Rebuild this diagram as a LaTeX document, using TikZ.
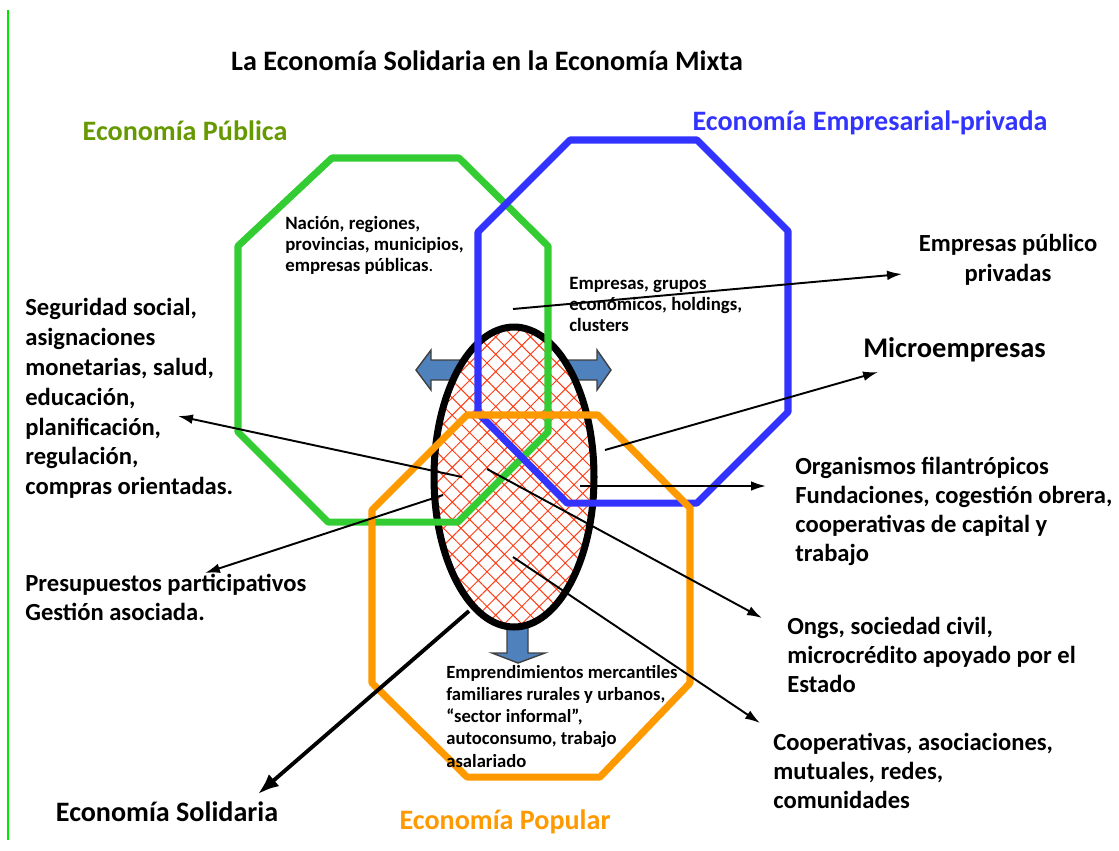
\documentclass[tikz,border=0pt]{standalone}
\usepackage{fontspec}
\setmainfont{Carlito}
\usepackage{tikz}
\usetikzlibrary{arrows.meta, patterns.meta}

\definecolor{verdepub}{RGB}{51,204,51}
\definecolor{verdetit}{RGB}{102,153,0}
\definecolor{azulemp}{RGB}{51,51,255}
\definecolor{naranjapop}{RGB}{255,153,0}
\definecolor{rojotrama}{RGB}{255,60,20}
\definecolor{azulflecha}{RGB}{79,129,189}
\definecolor{verdemargen}{RGB}{0,230,0}

\begin{document}
\begin{tikzpicture}[x=0.02cm, y=-0.02cm,
    >={Latex[length=8.5pt,width=5.5pt]},
    octa/.style={line width=4pt, line join=round},
    bigtext/.style={font=\bfseries\fontsize{14}{16.4}\selectfont, align=left, anchor=north west, inner sep=0pt},
    smalltext/.style={font=\bfseries\fontsize{10.7}{11.9}\selectfont, align=left, anchor=north west, inner sep=0pt},
    heading/.style={font=\bfseries\fontsize{16}{19}\selectfont, inner sep=0pt},
    bloque/.style={fill=azulflecha, draw=black!75, line width=0.8pt, line join=miter},
    conn/.style={line width=1.1pt}]
    \useasboundingbox (0,0) rectangle (1119,850);

    % margin line
    \draw[verdemargen, line width=0.8pt] (8,10) -- (8,840);

    % block arrows (behind the ellipse)
    \filldraw[bloque] (416,370) -- (431,350) -- (431,360) -- (463,360) -- (463,380) -- (431,380) -- (431,390) -- cycle;
    \filldraw[bloque] (611,370) -- (597,350) -- (597,360) -- (565,360) -- (565,380) -- (597,380) -- (597,390) -- cycle;
    \filldraw[bloque] (518,663) -- (492,653) -- (507,653) -- (507,620) -- (528,620) -- (528,653) -- (545,653) -- cycle;

    % economia solidaria
    \fill[white] (514,477) ellipse [x radius=1.6cm, y radius=3cm];
    \path[pattern={Hatch[angle=45,distance=7pt,line width=0.55pt]}, pattern color=rojotrama]
        (514,477) ellipse [x radius=1.6cm, y radius=3cm];
    \draw[line width=4pt] (514,477) ellipse [x radius=1.6cm, y radius=3cm];

    % octagons
    \draw[octa, verdepub] (332,158) -- (459,158) -- (548,246) -- (548,432) -- (458,522) -- (328,522) -- (238,432) -- (238,246) -- cycle;
    \draw[octa, azulemp] (570,140) -- (697,140) -- (788,231) -- (788,412) -- (697,503) -- (567,503) -- (478,413) -- (478,232) -- cycle;
    \draw[octa, naranjapop] (467,415) -- (598,415) -- (690,508) -- (690,683) -- (600,777) -- (467,777) -- (372,683) -- (372,510) -- cycle;

    % titles
    \node[heading] (titulo) at (487,61) {La Economía Solidaria en la Economía Mixta};
    \node[heading, text=verdetit] (publica) at (185,131) {Economía Pública};
    \node[heading, text=azulemp] (privada) at (870,123) {Economía Empresarial-privada};
    \node[heading] (solidaria) at (167,812) {Economía Solidaria};
    \node[heading, text=naranjapop] (popular) at (505,822) {Economía Popular};

    % texts
    \node[smalltext] (nacion) at (285,216) {Nación, regiones,\\provincias, municipios,\\empresas públicas{\mdseries .}};
    \node[smalltext] (grupos) at (569,277) {Empresas, grupos\\económicos, holdings,\\clusters};
    \node[smalltext, font=\bfseries\fontsize{10.6}{12.6}\selectfont] (emprend) at (446,665) {Emprendimientos mercantiles\\familiares rurales y urbanos,\\“sector informal”,\\autoconsumo, trabajo\\asalariado};
    \node[bigtext, font=\bfseries\fontsize{14}{17}\selectfont, align=center, anchor=north] (pubpriv) at (1008,234) {Empresas público\\privadas};
    \node[heading, font=\bfseries\fontsize{16.2}{19}\selectfont, anchor=west] (micro) at (863,350) {Microempresas};
    \node[bigtext, font=\bfseries\fontsize{14}{17}\selectfont] (seguridad) at (25,298) {Seguridad social,\\asignaciones\\monetarias, salud,\\educación,\\planificación,\\regulación,\\compras orientadas.};
    \node[bigtext] (organismos) at (795,457) {Organismos filantrópicos\\Fundaciones, cogestión obrera,\\cooperativas de capital y\\trabajo};
    \node[bigtext] (presupuestos) at (25,574) {Presupuestos participativos\\Gestión asociada.};
    \node[bigtext] (ongs) at (787,617) {Ongs, sociedad civil,\\microcrédito apoyado por el\\Estado};
    \node[bigtext] (cooperativas) at (773,733) {Cooperativas, asociaciones,\\mutuales, redes,\\comunidades};

    % connector ends
    \coordinate (iEmp) at (513,309);  \coordinate (tEmp) at (902,274);
    \coordinate (iMic) at (605,450);  \coordinate (tMic) at (878,372);
    \coordinate (iOrg) at (580,486);  \coordinate (tOrg) at (766,486);
    \coordinate (iSeg) at (462,477);  \coordinate (tSeg) at (178,416);
    \coordinate (iPre) at (443,495);  \coordinate (tPre) at (205,573);
    \coordinate (iOng) at (487,469);  \coordinate (tOng) at (762,618);
    \coordinate (iCoo) at (513,557);  \coordinate (tCoo) at (760,723);
    \coordinate (iSol) at (469,611);  \coordinate (tSol) at (258,794);

    \draw[conn]
    (iEmp) edge[->] (tEmp)
    (iMic) edge[->] (tMic)
    (iOrg) edge[->] (tOrg)
    (iSeg) edge[->] (tSeg)
    (iPre) edge[->] (tPre)
    (iOng) edge[->] (tOng)
    (iCoo) edge[->] (tCoo);
    \draw[line width=2.2pt, -{Latex[length=12pt,width=9pt]}] (iSol) -- (tSol);
\end{tikzpicture}
\end{document}
